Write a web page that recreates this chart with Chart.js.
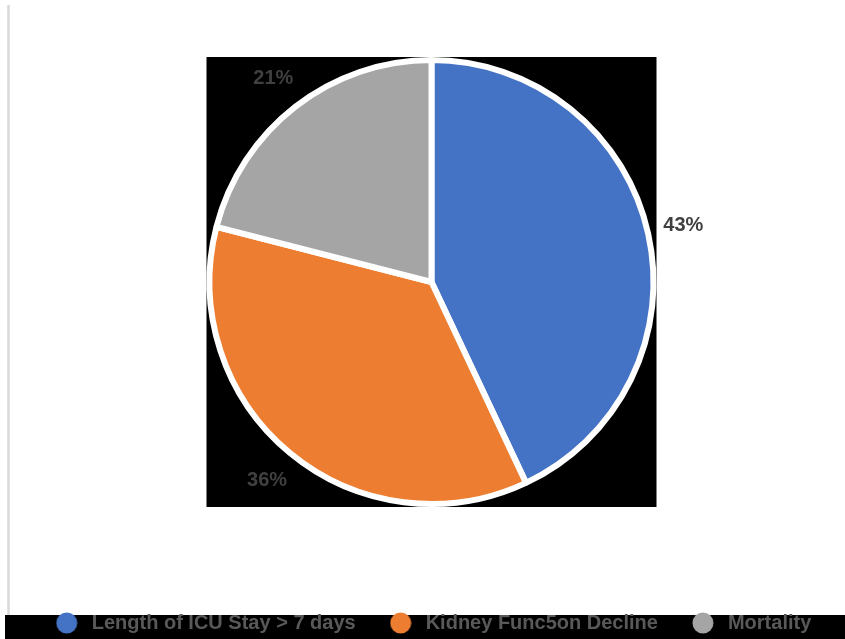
<!DOCTYPE html>
<html>
<head>
<meta charset="utf-8">
<script src="https://cdn.jsdelivr.net/npm/chart.js@4/dist/chart.umd.min.js"></script>
<style>
  html, body { margin: 0; padding: 0; background: #ffffff; }
  #wrap { width: 845px; height: 639px; }
</style>
</head>
<body>
<div id="wrap"><canvas id="chart" width="845" height="639"></canvas></div>
<script>
// Outcome categories and their shares (percent)
const categories = ['Length of ICU Stay > 7 days', 'Kidney Func5on Decline', 'Mortality'];
const shares = [43, 36, 21];
const sliceColors = ['#4472C4', '#ED7D31', '#A5A5A5'];

const FONT = '"Liberation Sans", Arial, sans-serif';

// Small round swatches used as legend markers
function makeSwatch(color) {
  const c = document.createElement('canvas');
  c.width = 22; c.height = 22;
  const g = c.getContext('2d');
  g.fillStyle = color;
  g.beginPath();
  g.arc(11, 11, 10.5, 0, Math.PI * 2);
  g.fill();
  return c;
}
const swatches = sliceColors.map(makeSwatch);

// Page decorations: white page, thin grey rule on the left, black strip under the legend
const pageDecor = {
  id: 'pageDecor',
  beforeDraw(chart) {
    const ctx = chart.ctx;
    ctx.save();
    ctx.fillStyle = '#ffffff';
    ctx.fillRect(0, 0, chart.width, chart.height);
    ctx.strokeStyle = '#d9d9d9';
    ctx.lineWidth = 2.5;
    ctx.beginPath();
    ctx.moveTo(8.5, 5);
    ctx.lineTo(8.5, 615);
    ctx.stroke();
    ctx.fillStyle = '#000000';
    ctx.fillRect(5, 615, chart.width - 5, chart.height - 615);
    ctx.restore();
  }
};

// Black square panel behind the pie
const piePanel = {
  id: 'piePanel',
  beforeDatasetsDraw(chart) {
    const arc = chart.getDatasetMeta(0).data[0];
    if (!arc) return;
    const half = chart.chartArea.height / 2;
    const ctx = chart.ctx;
    ctx.save();
    ctx.fillStyle = '#000000';
    ctx.fillRect(arc.x - half, arc.y - half, half * 2, half * 2);
    ctx.restore();
  }
};

// Percentage labels placed just outside each slice
const outsideLabels = {
  id: 'outsideLabels',
  afterDatasetsDraw(chart) {
    const meta = chart.getDatasetMeta(0);
    const values = chart.data.datasets[0].data;
    const ctx = chart.ctx;
    ctx.save();
    ctx.font = 'bold 20px ' + FONT;
    ctx.fillStyle = '#404040';
    ctx.textAlign = 'center';
    ctx.textBaseline = 'middle';
    meta.data.forEach((arc, i) => {
      const p = arc.getProps(['x', 'y', 'startAngle', 'endAngle', 'outerRadius'], true);
      const mid = (p.startAngle + p.endAngle) / 2;
      const r = p.outerRadius + 36;
      ctx.fillText(values[i] + '%', p.x + Math.cos(mid) * r, p.y + Math.sin(mid) * r);
    });
    ctx.restore();
  }
};

new Chart(document.getElementById('chart'), {
  type: 'pie',
  data: {
    labels: categories,
    datasets: [{
      data: shares,
      backgroundColor: sliceColors,
      borderColor: '#ffffff',
      borderWidth: 6,
      hoverOffset: 0
    }]
  },
  options: {
    responsive: false,
    animation: false,
    events: [],
    layout: { padding: { top: 57, left: 18, right: 0, bottom: -4 } },
    plugins: {
      tooltip: { enabled: false },
      legend: {
        position: 'bottom',
        title: { display: true, text: '', font: { size: 10 }, padding: { top: 64, bottom: 0 } },
        labels: {
          usePointStyle: true,
          pointStyleWidth: 30,
          padding: 30,
          color: '#595959',
          font: { family: FONT, size: 20, weight: 'bold' },
          generateLabels(chart) {
            const items = Chart.overrides.doughnut.plugins.legend.labels.generateLabels(chart);
            items.forEach((it, i) => { it.pointStyle = swatches[i]; it.lineWidth = 0; });
            return items;
          }
        }
      }
    }
  },
  plugins: [pageDecor, piePanel, outsideLabels]
});
</script>
</body>
</html>
